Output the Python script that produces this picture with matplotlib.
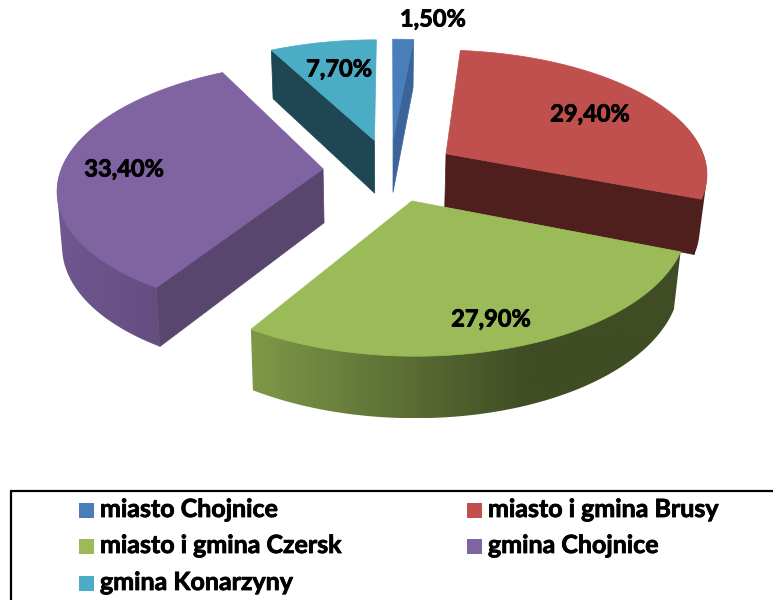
import numpy as np
import matplotlib
matplotlib.use("Agg")
import matplotlib.pyplot as plt
import matplotlib.patheffects as pe
from matplotlib.colors import to_rgb
from matplotlib.patches import Polygon, Rectangle

names = ['miasto Chojnice', 'miasto i gmina Brusy', 'miasto i gmina Czersk',
         'gmina Chojnice', 'gmina Konarzyny']
values = [1.5, 29.4, 27.9, 33.4, 7.7]

top_colors = ['#4A7EBB', '#C0504D', '#9BBB59', '#8064A2', '#4BACC6']
side_colors = ['#3B659A', '#4F1F1E', '#3F4C24', '#59466F', '#1F4653']
# rim shading: colour at the left end and at the right end of the visible rim
rim_left = ['#3B659A', '#4F1F1E', '#7E9848', '#6F5790', '#1F4653']
rim_right = ['#3B659A', '#4F1F1E', '#3F4C24', '#644E80', '#1F4653']

label_pos = [(433, 19), (590, 114), (491, 319), (124, 169), (339, 69)]
legend_pos = [(79, 510), (467, 510), (79, 546), (467, 546), (79, 583)]

# projection of the pie plane onto pixels
cx, cy = 390, 170
A, B, k = 262, 123, 0.144
explode = 0.256
depth = 54

plt.rcParams['font.family'] = ['Lato', 'DejaVu Sans']
thick = [pe.withStroke(linewidth=0.6, foreground='black')]


def project(u, v):
    s = 1 / (1 + k * v)
    return cx + A * u * s, cy - B * v * s, s


def lower(u, v):
    x, y, s = project(u, v)
    shrink = 0.977 if x > cx else 0.985
    return cx + (x - cx) * shrink, y + depth * s ** 0.7


def hull(points):
    # convex hull, gives the straight silhouette between top and bottom rim
    pts = sorted(set(points))

    def half(seq):
        out = []
        for p in seq:
            while len(out) > 1:
                a, b = out[-2], out[-1]
                if (b[0] - a[0]) * (p[1] - a[1]) - (b[1] - a[1]) * (p[0] - a[0]) > 0:
                    break
                out.pop()
            out.append(p)
        return out[:-1]

    return np.array(half(pts) + half(pts[::-1]))


fig = plt.figure(figsize=(7.73, 6), dpi=100)
ax = fig.add_axes([0, 0, 1, 1])

total = sum(values)
edges = np.concatenate([[0], np.cumsum(values)]) / total * 2 * np.pi

# back slices first
for i in [4, 0, 3, 1, 2]:
    t1, t2 = edges[i], edges[i + 1]
    mid = (t1 + t2) / 2
    ou, ov = explode * np.sin(mid), explode * np.cos(mid)
    th = np.linspace(t1, t2, 160)
    us = ou + np.sin(th)
    vs = ov + np.cos(th)

    # curved wall, gradient image clipped to the wall outline
    # goes a bit past the sides, the top face covers the extra part
    front = np.cos(th) < 0.35
    if front.any():
        top_pts = [project(a, b)[:2] for a, b in zip(us[front], vs[front])]
        low_pts = [lower(a, b) for a, b in zip(us[front], vs[front])]
        outline = hull(top_pts + low_pts)
        x0, x1 = outline[:, 0].min(), outline[:, 0].max()
        y0, y1 = outline[:, 1].min(), outline[:, 1].max()
        f = np.linspace(0, 1, 256)
        if i == 2:
            f = np.minimum(f / 0.65, 1)  # green is dark from about two thirds on
        grad = np.outer(1 - f, to_rgb(rim_left[i])) + np.outer(f, to_rgb(rim_right[i]))
        img = ax.imshow(grad[np.newaxis, :, :], extent=(x0, x1, y1, y0), aspect='auto')
        wall = Polygon(outline, fc='none', ec='none', transform=ax.transData)
        ax.add_patch(wall)
        img.set_clip_path(wall)

    # straight walls that face the viewer
    for t, show in [(t1, np.sin(t1) < 0), (t2, np.sin(t2) > 0)]:
        if show:
            eu, ev = ou + np.sin(t), ov + np.cos(t)
            pts = [project(ou, ov)[:2], project(eu, ev)[:2], lower(eu, ev), lower(ou, ov)]
            ax.add_patch(Polygon(pts, fc=side_colors[i], ec=side_colors[i], lw=0.5))

    # top face
    pts = [project(ou, ov)[:2]] + [project(a, b)[:2] for a, b in zip(us, vs)]
    ax.add_patch(Polygon(pts, fc=top_colors[i], ec=top_colors[i], lw=0.5))

for v, pos in zip(values, label_pos):
    ax.text(pos[0], pos[1], f'{v:.2f}%'.replace('.', ','), fontsize=17, fontweight='bold',
            color='black', ha='center', va='center', path_effects=thick)

# legend box runs off the right and bottom of the picture
ax.add_patch(Rectangle((10.5, 491), 800, 150, fc='white', ec='black', lw=1.6))
for n, c, pos in zip(names, top_colors, legend_pos):
    ax.add_patch(Rectangle((pos[0], pos[1] - 7.5), 15, 15, fc=c, ec='none'))
    ax.text(pos[0] + 21, pos[1] - 0.5, n, fontsize=18, fontweight='bold', color='black',
            ha='left', va='center', path_effects=thick)

ax.set_xlim(0, 773)
ax.set_ylim(600, 0)
ax.axis('off')

fig.savefig('out.png', dpi=100)
